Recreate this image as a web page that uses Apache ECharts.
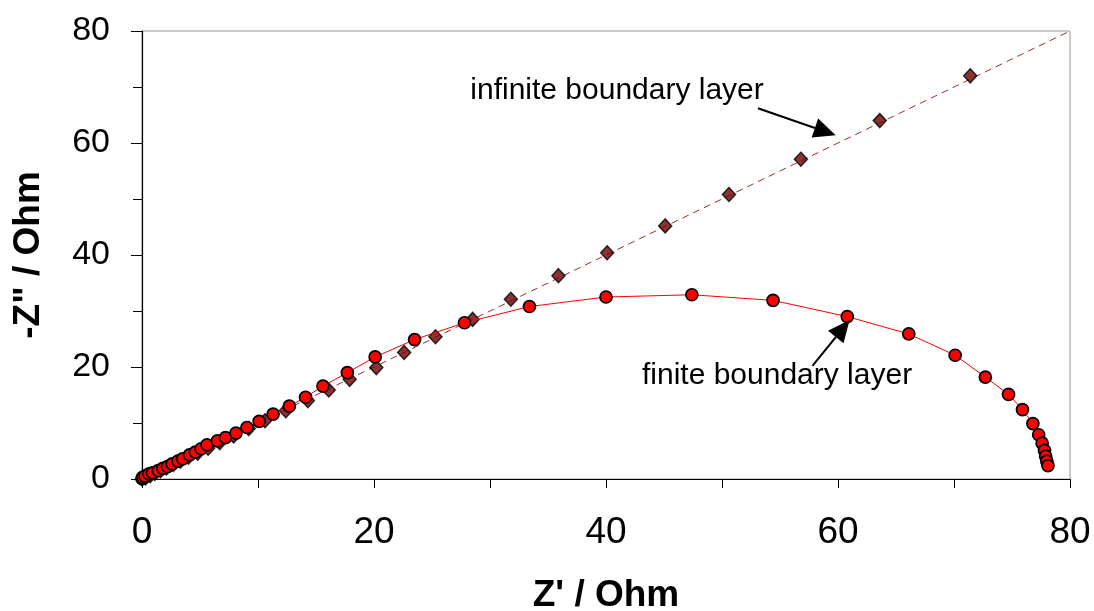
<!DOCTYPE html>
<html>
<head>
<meta charset="utf-8">
<script src="https://cdn.jsdelivr.net/npm/echarts@6/dist/echarts.min.js"></script>
<style>
html,body{margin:0;padding:0;background:#fff;}
#chart{width:1094px;height:611px;}
</style>
</head>
<body>
<div id="chart"></div>
<script>
// Finite boundary layer (red circles): Z' and -Z''
const finiteZr = [0.0,0.05,0.26,0.6,0.9,1.4,1.8,2.2,2.6,3.1,3.5,4.1,4.6,5.1,5.6,6.5,7.2,8.1,9.05,10.1,11.3,12.7,14.1,15.6,17.7,20.1,23.5,27.8,33.4,40.0,47.4,54.4,60.8,66.1,70.1,72.7,74.7,75.9,76.8,77.3,77.6,77.8,77.9,78.0,78.1];
const finiteZi = [0.05,0.3,0.5,0.9,1.1,1.5,1.9,2.2,2.7,3.2,3.6,4.3,4.8,5.4,6.1,6.8,7.4,8.2,9.2,10.3,11.6,13.0,14.6,16.6,19.0,21.8,24.9,27.9,30.8,32.5,32.9,31.9,29.0,25.9,22.1,18.2,15.1,12.4,9.9,7.9,6.4,5.1,4.1,3.2,2.4];
// Infinite boundary layer (dark red diamonds)
const infiniteZr = [0,0.3,0.7,1.1,1.6,2.1,2.7,3.3,4.0,4.8,5.7,6.7,7.9,9.2,10.6,12.4,14.3,16.1,17.9,20.2,22.6,25.3,28.5,31.8,35.9,40.1,45.1,50.6,56.8,63.6,71.4];
const infiniteZi = [0,0.2,0.6,1.0,1.5,2.0,2.6,3.2,3.9,4.6,5.5,6.5,7.7,9.0,10.4,12.2,14.0,15.9,17.8,19.9,22.6,25.4,28.5,32.1,36.3,40.4,45.2,50.8,57.1,64.0,72.0];
// Dashed model line for infinite boundary layer
const infiniteFitZr = [0, 80];
const infiniteFitZi = [0, 80];
// Axis ticks
const xTicks = [0, 20, 40, 60, 80];
const yTicks = [0, 20, 40, 60, 80];
// Annotations (text anchor and arrow tail/tip in data units)
const annotationTexts = ['infinite boundary layer', 'finite boundary layer'];
const annotationAnchors = [[28.3, 69.3], [43.1, 18.4]];
const arrowTails = [[53.1, 66.2], [57.8, 20.2]];
const arrowTips = [[59.8, 61.4], [61.0, 28.4]];

const zip = (a, b) => a.map((v, i) => [v, b[i]]);
const FONT = '"Liberation Sans", Arial, sans-serif';

const chart = echarts.init(document.getElementById('chart'), null, {renderer: 'canvas'});
const option = {
  animation: false,
  backgroundColor: '#ffffff',
  grid: {left: 142, right: 24, top: 31, bottom: 132, containLabel: false, outerBoundsMode: 'none',
    show: true, borderColor: '#999999', borderWidth: 1},
  xAxis: {
    type: 'value', min: xTicks[0], max: xTicks[xTicks.length - 1], interval: 20,
    name: "Z' / Ohm", nameLocation: 'middle', nameGap: 98,
    nameTextStyle: {fontFamily: FONT, fontSize: 37, fontWeight: 'bold', color: '#000'},
    axisLine: {lineStyle: {color: '#000', width: 1.2}},
    axisTick: {show: true, length: 9, lineStyle: {color: '#000'}},
    minorTick: {show: true, splitNumber: 2, length: 9, lineStyle: {color: '#000'}},
    splitLine: {show: false},
    axisLabel: {fontFamily: FONT, fontSize: 37, color: '#000', margin: 35}
  },
  yAxis: {
    type: 'value', min: yTicks[0], max: yTicks[yTicks.length - 1], interval: 20,
    name: '-Z" / Ohm', nameLocation: 'middle', nameGap: 95, nameRotate: 90,
    nameTextStyle: {fontFamily: FONT, fontSize: 37, fontWeight: 'bold', color: '#000'},
    axisLine: {lineStyle: {color: '#000', width: 1.2}},
    axisTick: {show: true, length: 11, lineStyle: {color: '#000'}},
    minorTick: {show: true, splitNumber: 2, length: 9, lineStyle: {color: '#000'}},
    splitLine: {show: false},
    axisLabel: {fontFamily: FONT, fontSize: 34, color: '#000', margin: 32}
  },
  series: [
    {
      name: 'infinite fit', type: 'line', data: zip(infiniteFitZr, infiniteFitZi),
      showSymbol: false, symbol: 'none', silent: true,
      lineStyle: {color: '#9b2d2d', width: 1, type: [7, 5]}, z: 2
    },
    {
      name: 'infinite', type: 'scatter', data: zip(infiniteZr, infiniteZi),
      symbol: 'diamond', symbolSize: [13, 14],
      itemStyle: {color: '#6e0000', borderColor: '#000', borderWidth: 1.5}, z: 3
    },
    {
      name: 'finite', type: 'line', data: zip(finiteZr, finiteZi),
      symbol: 'circle', symbolSize: 12, showSymbol: true, showAllSymbol: true,
      lineStyle: {color: '#ff0000', width: 1},
      itemStyle: {color: '#ff0000', borderColor: '#000', borderWidth: 1.7}, z: 4
    }
  ]
};
chart.setOption(option);

// annotations: text + arrows positioned through the axes
const graphics = [];
annotationTexts.forEach((t, i) => {
  const p = chart.convertToPixel({gridIndex: 0}, annotationAnchors[i]);
  graphics.push({type: 'text', x: p[0], y: p[1], z: 10,
    style: {text: t, font: '30px ' + FONT, fill: '#000', textAlign: 'left', textVerticalAlign: 'middle'}});
  const a = chart.convertToPixel({gridIndex: 0}, arrowTails[i]);
  const b = chart.convertToPixel({gridIndex: 0}, arrowTips[i]);
  const dx = b[0] - a[0], dy = b[1] - a[1];
  const len = Math.sqrt(dx * dx + dy * dy);
  const ux = dx / len, uy = dy / len, nx = -uy, ny = ux;
  const L = 22, W = 20;
  const bx = b[0] - ux * L, by = b[1] - uy * L;
  graphics.push({type: 'line', z: 10, shape: {x1: a[0], y1: a[1], x2: bx, y2: by},
    style: {stroke: '#000', lineWidth: 2}});
  graphics.push({type: 'polygon', z: 10, shape: {points: [[b[0], b[1]], [bx + nx * W / 2, by + ny * W / 2], [bx - nx * W / 2, by - ny * W / 2]]},
    style: {fill: '#000'}});
});
chart.setOption({graphic: graphics});
</script>
</body>
</html>
